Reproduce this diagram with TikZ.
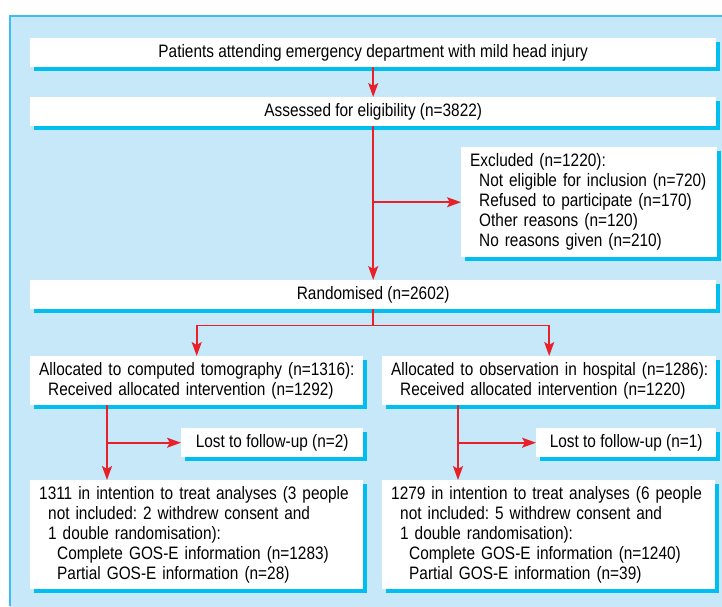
\documentclass[tikz,border=0pt]{standalone}
\usepackage{fontspec}
\setmainfont{Liberation Sans}[FakeStretch=0.855]
\usetikzlibrary{arrows.meta,shadows}
\frenchspacing

\definecolor{panelblue}{RGB}{198,232,248}
\definecolor{shadowblue}{RGB}{0,190,240}
\definecolor{edgeblue}{RGB}{60,190,240}
\definecolor{arrowred}{RGB}{232,32,42}

\tikzset{
  box/.style={fill=white, anchor=north west, inner xsep=9pt, inner ysep=0pt,
    drop shadow={fill=shadowblue, opacity=1, shadow xshift=4pt, shadow yshift=-4pt},
    font=\fontsize{18}{20}\selectfont},
  leftbox/.style={box, align=left, inner xsep=4pt},
  flow/.style={draw=arrowred, line width=1.7pt, -{Stealth[length=14pt,width=10pt,inset=3pt]}},
  line/.style={draw=arrowred, line width=1.7pt},
}

\begin{document}
\begin{tikzpicture}[x=1pt,y=-1pt]
            \useasboundingbox (0,0) rectangle (722,606);
            % panel
            \fill[panelblue] (10,16) rectangle (730,620);
            \draw[edgeblue, line width=1.2pt] (10,606) -- (10,16) -- (722,16);

            \node[box, minimum width=686pt, minimum height=29pt] (attend) at (30,38)
                {Patients attending emergency department with mild head injury};
            \node[box, minimum width=686pt, minimum height=29pt] (elig) at (30,97)
                {Assessed for eligibility (n=3822)};
            \node[leftbox, text width=248pt, minimum height=110pt] (excl) at (461,147)
                {\hspace*{5pt}Excluded (n=1220):\\
                 \hspace*{14pt}Not eligible for inclusion (n=720)\\
                 \hspace*{14pt}Refused to participate (n=170)\\
                 \hspace*{14pt}Other reasons (n=120)\\
                 \hspace*{14pt}No reasons given (n=210)};
            \node[box, minimum width=686pt, minimum height=29pt] (rand) at (30,280)
                {Randomised (n=2602)};

            \node[leftbox, text width=325pt, minimum height=49pt] (ct) at (30,356)
                {\hspace*{5pt}Allocated to computed tomography (n=1316):\\
                 \hspace*{14pt}Received allocated intervention (n=1292)};
            \node[leftbox, text width=326pt, minimum height=49pt] (obs) at (382,356)
                {\hspace*{5pt}Allocated to observation in hospital (n=1286):\\
                 \hspace*{14pt}Received allocated intervention (n=1220)};

            \node[box, minimum width=182pt, minimum height=29pt] (lostct) at (181,428)
                {Lost to follow-up (n=2)};
            \node[box, minimum width=180pt, minimum height=29pt] (lostobs) at (536,428)
                {Lost to follow-up (n=1)};

            \node[leftbox, text width=325pt, minimum height=109pt] (ittct) at (30,480)
                {\hspace*{5pt}1311 in intention to treat analyses (3 people\\
                 \hspace*{14pt}not included: 2 withdrew consent and\\
                 \hspace*{14pt}1 double randomisation):\\
                 \hspace*{23pt}Complete GOS-E information (n=1283)\\
                 \hspace*{23pt}Partial GOS-E information (n=28)};
            \node[leftbox, text width=325pt, minimum height=109pt] (ittobs) at (382,480)
                {\hspace*{5pt}1279 in intention to treat analyses (6 people\\
                 \hspace*{14pt}not included: 5 withdrew consent and\\
                 \hspace*{14pt}1 double randomisation):\\
                 \hspace*{23pt}Complete GOS-E information (n=1240)\\
                 \hspace*{23pt}Partial GOS-E information (n=39)};

            % arrows
            \draw[flow] (attend) -- (elig);
            \draw[flow] (elig) -- (rand);
            \draw[flow] (elig.south |- excl.west) -- (excl.west);

            \draw[line] (rand.south) -- ++(0,16) coordinate (split);
            \draw[flow] (split) -| (ct.north);
            \draw[flow] (split) -| (obs.north);

            \draw[flow] ([xshift=77pt]ct.south west) -- ([xshift=77pt]ittct.north west);
            \draw[flow] ([xshift=77pt]ct.south west |- lostct.west) -- (lostct.west);
            \draw[flow] ([xshift=76pt]obs.south west) -- ([xshift=76pt]ittobs.north west);
            \draw[flow] ([xshift=76pt]obs.south west |- lostobs.west) -- (lostobs.west);
        \end{tikzpicture}
\end{document}
